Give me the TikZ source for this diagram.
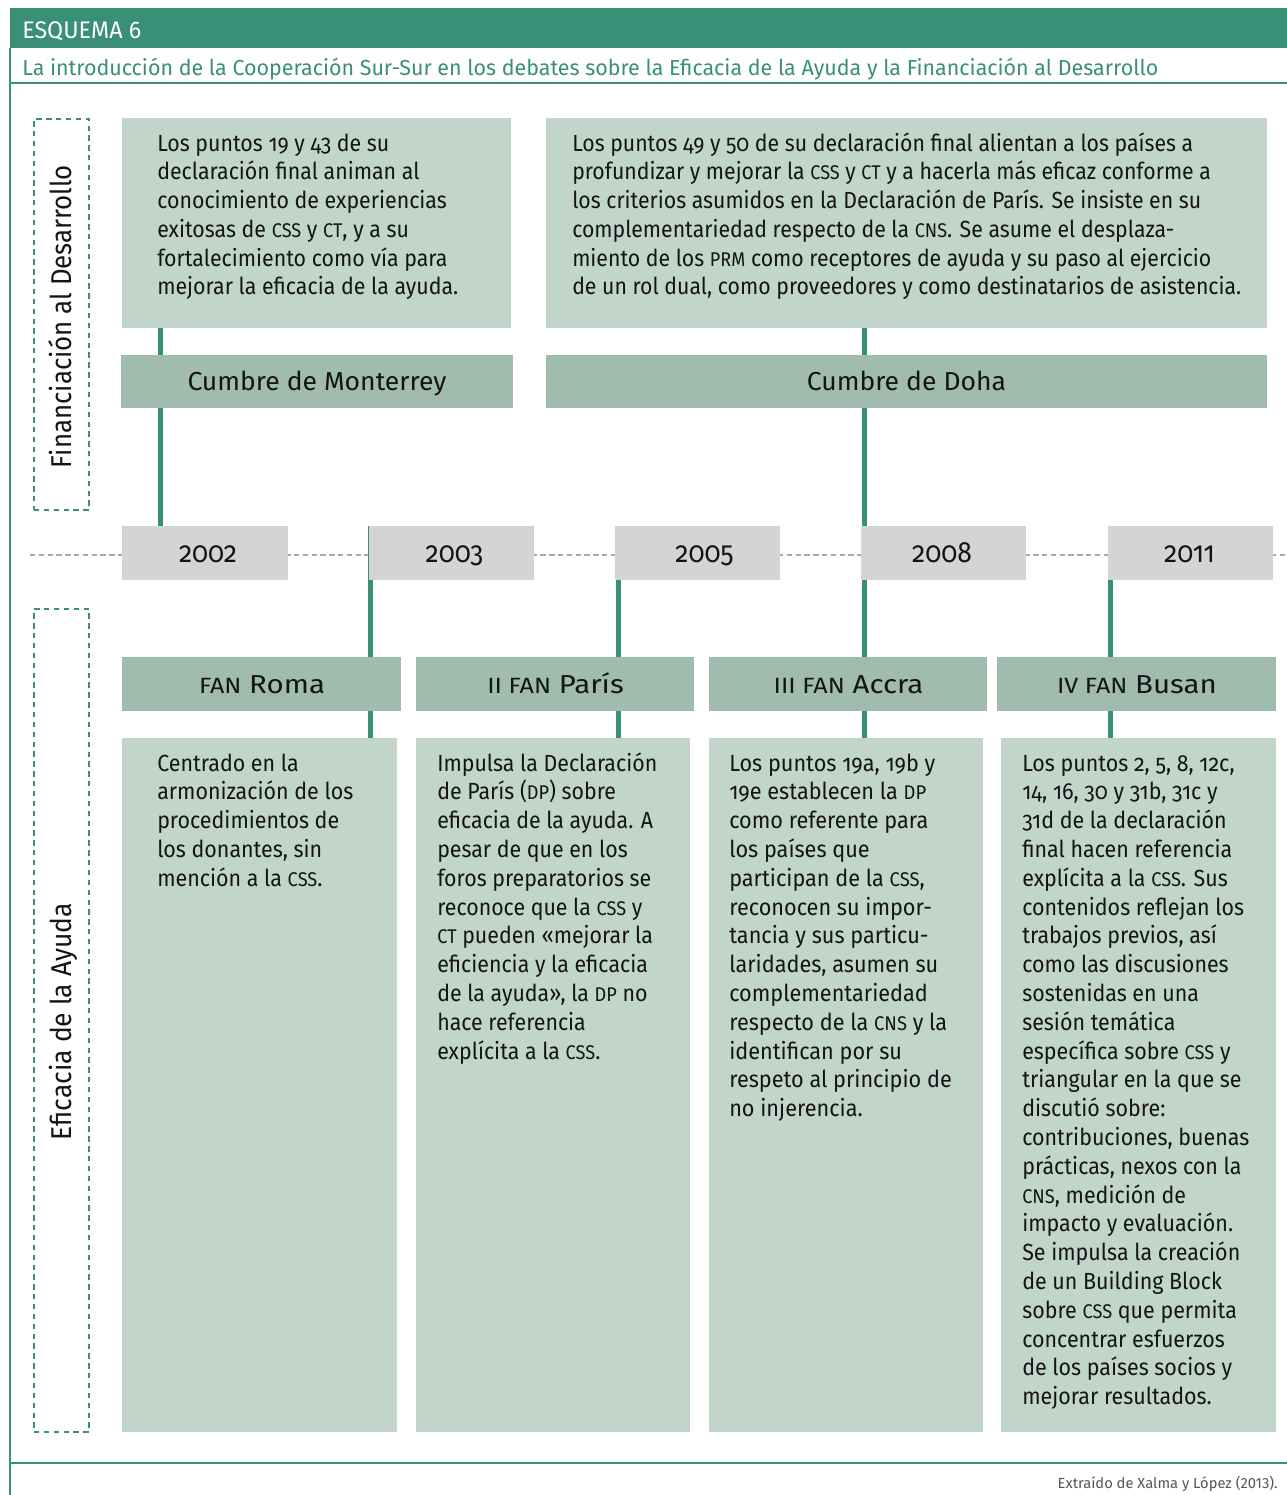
\documentclass[tikz,border=0pt]{standalone}
\usepackage{fontspec}
\setmainfont{Fira Sans}[Numbers=OldStyle]
\newfontfamily\linfont{Fira Sans}[Numbers=Lining]
\usepackage{graphicx}
\newlength\fitlen
\newcommand\fitto[3]{\settowidth\fitlen{#2}\pgfmathsetmacro\fitsf{#1*0.75/\fitlen}\scalebox{\fitsf}[1]{#3}}
\newcommand\smc[1]{\scalebox{0.85}{#1}}
\newcommand\bx[6]{\node[#6,anchor=north west,inner sep=0pt,outer sep=0pt,minimum width={(#3-#1)*0.75pt},minimum height={(#4-#2)*0.75pt}] (#5) at (#1,#2) {};}
\definecolor{hdr}{RGB}{58,143,119}
\definecolor{lightbx}{RGB}{194,213,202}
\definecolor{midbx}{RGB}{159,188,174}
\definecolor{yearbx}{RGB}{211,212,214}
\definecolor{tlgray}{RGB}{170,170,170}
\definecolor{txt}{RGB}{20,20,20}
\definecolor{foot}{RGB}{85,85,85}
\tikzset{
  lightfill/.style={fill=lightbx},
  plain/.style={},
  dashbox/.style={draw=hdr,line width=1.5pt,dash pattern=on 4pt off 3.4pt},
  conn/.style={draw=hdr,line width=3.75pt},
  timeline/.style={draw=tlgray,line width=1.6pt,dash pattern=on 4pt off 2.6pt},
  rule/.style={draw=hdr,line width=1.5pt},
  body/.style={anchor=base west,inner sep=0pt,text=txt,font={\fontsize{17.5}{21.6}\selectfont}},
  head/.style={anchor=base,inner sep=0pt,text=txt,font={\fontsize{19.5}{23}\selectfont}},
  yearlbl/.style={anchor=base,inner sep=0pt,text=txt,font={\fontsize{22}{26}\selectfont}},
  sidelbl/.style={anchor=base,inner sep=0pt,rotate=90,text=txt,font={\fontsize{21.5}{25}\selectfont}},
}
\begin{document}
\begin{tikzpicture}[x=0.75pt,y=-0.75pt]
\useasboundingbox (0,0) rectangle (1287,1495);
% frame
\fill[hdr] (10,8) rectangle (1287,48);
\node[anchor=base west,inner sep=0pt,text=white,font={\linfont\fontsize{18}{22}\selectfont}] (esq) at (22,38.5) {\fitto{119}{ESQUEMA 6}{ESQUEMA 6}};
\node[anchor=base west,inner sep=0pt,text=hdr,font={\linfont\fontsize{16.3}{20}\selectfont}] (sub) at (22,75) {\fitto{1136}{La introducción de la Cooperación Sur-Sur en los debates sobre la Eficacia de la Ayuda y la Financiación al Desarrollo}{La introducción de la Cooperación Sur-Sur en los debates sobre la Eficacia de la Ayuda y la Financiación al Desarrollo}};
\draw[rule,line width=1.2pt] (10,83) -- (1287,83);
\draw[rule] (10,48) -- (10,1495);
\draw[rule,line width=1.2pt] (10,1463) -- (1287,1463);
\node[anchor=base east,inner sep=0pt,text=foot,font={\linfont\fontsize{11}{13}\selectfont}] (src) at (1278,1488) {\fitto{220}{Extraído de Xalma y López (2013).}{Extraído de Xalma y López (2013).}};
% timeline
\coordinate (tl0) at (30,555);
\coordinate (tl1) at (1287,555);
\draw[timeline] (tl0) -- (tl1);
% boxes
\bx{122}{118}{511}{328}{tl}{lightfill}
\bx{546}{118}{1267}{328}{tr}{lightfill}
\bx{121}{355}{513}{408}{mon}{plain}
\bx{546}{355}{1267}{408}{doh}{plain}
\bx{122}{526}{288}{580}{y02}{plain}
\bx{369}{526}{534}{580}{y03}{plain}
\bx{615}{526}{780}{580}{y05}{plain}
\bx{861}{526}{1026}{580}{y08}{plain}
\bx{1108}{526}{1273}{580}{y11}{plain}
\bx{122}{657}{401}{711}{f1}{plain}
\bx{416}{657}{694}{711}{f2}{plain}
\bx{709}{657}{987}{711}{f3}{plain}
\bx{997}{657}{1276}{711}{f4}{plain}
\bx{122}{738}{397}{1432}{b1}{lightfill}
\bx{416}{738}{690}{1432}{b2}{lightfill}
\bx{709}{738}{983}{1432}{b3}{lightfill}
\bx{1001}{738}{1276}{1432}{b4}{lightfill}
\bx{34}{119}{89}{510}{sd1}{dashbox}
\bx{34}{609}{89}{1432}{sd2}{dashbox}
% connectors
\coordinate (cx1) at (160.5,0);
\coordinate (cx2) at (370.5,0);
\coordinate (cx3) at (618,0);
\coordinate (cx4) at (864,0);
\coordinate (cx5) at (1110.5,0);
\draw[conn] (tl.south -| cx1) -- (y02.north -| cx1);
\draw[conn] (y03.north -| cx2) -- (b1.north -| cx2);
\draw[conn] (y05.south -| cx3) -- (b2.north -| cx3);
\draw[conn] (tr.south -| cx4) -- (b3.north -| cx4);
\draw[conn] (y11.north -| cx5) -- (b4.north -| cx5);
% filled boxes on top of connectors
\fill[midbx] (mon.north west) rectangle (mon.south east);
\fill[midbx] (doh.north west) rectangle (doh.south east);
\fill[yearbx] (y02.north west) rectangle (y02.south east);
\fill[yearbx] (y03.north west) rectangle (y03.south east);
\fill[yearbx] (y05.north west) rectangle (y05.south east);
\fill[yearbx] (y08.north west) rectangle (y08.south east);
\fill[yearbx] (y11.north west) rectangle (y11.south east);
\fill[midbx] (f1.north west) rectangle (f1.south east);
\fill[midbx] (f2.north west) rectangle (f2.south east);
\fill[midbx] (f3.north west) rectangle (f3.south east);
\fill[midbx] (f4.north west) rectangle (f4.south east);
% side labels
\node[sidelbl] (lab1) at (71.5,316.5) {\fitto{303}{Financiación al Desarrollo}{Financiación al Desarrollo}};
\node[sidelbl] (lab2) at (71.5,1021.5) {\fitto{237}{Eficacia de la Ayuda}{Eficacia de la Ayuda}};
% headings
\node[head] (tmon) at (317,390.5) {\fitto{259}{Cumbre de Monterrey}{Cumbre de Monterrey}};
\node[head] (tdoh) at (906.5,390.5) {\fitto{259}{Cumbre de Monterrey}{Cumbre de Doha}};
\node[head] (tf1) at (262,693) {\fitto{126}{\smc{FAN} Roma}{\smc{FAN} Roma}};
\node[head] (tf2) at (555.5,693) {\fitto{126}{\smc{FAN} Roma}{\smc{II FAN} París}};
\node[head] (tf3) at (848.5,693) {\fitto{126}{\smc{FAN} Roma}{\smc{III FAN} Accra}};
\node[head] (tf4) at (1137,693) {\fitto{126}{\smc{FAN} Roma}{\smc{IV FAN} Busan}};
% years
\node[yearlbl] (t02) at (208,562) {\fitto{58}{2002}{2002}};
\node[yearlbl] (t03) at (454.5,562) {\fitto{58}{2002}{2003}};
\node[yearlbl] (t05) at (704.5,562) {\fitto{58}{2002}{2005}};
\node[yearlbl] (t08) at (942,562) {\fitto{58}{2002}{2008}};
\node[yearlbl] (t11) at (1189.5,562) {\fitto{58}{2002}{2011}};
% body texts
\node[body] (ttl) at (157,151) {\fitto{301}{mejorar la eficacia de la ayuda.}{\begin{tabular}[t]{@{}l@{}}
Los puntos 19 y 43 de su\\
declaración final animan al\\
conocimiento de experiencias\\
exitosas de \smc{CSS} y \smc{CT}, y a su\\
fortalecimiento como vía para\\
mejorar la eficacia de la ayuda.\end{tabular}}};
\node[body] (ttr) at (572,151) {\fitto{669}{de un rol dual, como proveedores y como destinatarios de asistencia.}{\begin{tabular}[t]{@{}l@{}}
Los puntos 49 y 50 de su declaración final alientan a los países a\\
profundizar y mejorar la \smc{CSS} y \smc{CT} y a hacerla más eficaz conforme a\\
los criterios asumidos en la Declaración de París. Se insiste en su\\
complementariedad respecto de la \smc{CNS}. Se asume el desplaza-\\
miento de los \smc{PRM} como receptores de ayuda y su paso al ejercicio\\
de un rol dual, como proveedores y como destinatarios de asistencia.\end{tabular}}};
\node[body] (tb1) at (157,771) {\fitto{196}{armonización de los}{\begin{tabular}[t]{@{}l@{}}
Centrado en la\\
armonización de los\\
procedimientos de\\
los donantes, sin\\
mención a la \smc{CSS}.\end{tabular}}};
\node[body] (tb2) at (437,771) {\fitto{220}{Impulsa la Declaración}{\begin{tabular}[t]{@{}l@{}}
Impulsa la Declaración\\
de París (\smc{DP}) sobre\\
eficacia de la ayuda. A\\
pesar de que en los\\
foros preparatorios se\\
reconoce que la \smc{CSS} y\\
\smc{CT} pueden «mejorar la\\
eficiencia y la eficacia\\
de la ayuda», la \smc{DP} no\\
hace referencia\\
explícita a la \smc{CSS}.\end{tabular}}};
\node[body] (tb3) at (729,771) {\fitto{218}{respecto de la \smc{CNS} y la}{\begin{tabular}[t]{@{}l@{}}
Los puntos 19a, 19b y\\
19e establecen la \smc{DP}\\
como referente para\\
los países que\\
participan de la \smc{CSS},\\
reconocen su impor-\\
tancia y sus particu-\\
laridades, asumen su\\
complementariedad\\
respecto de la \smc{CNS} y la\\
identifican por su\\
respeto al principio de\\
no injerencia.\end{tabular}}};
\node[body] (tb4) at (1022,771) {\fitto{227}{contribuciones, buenas}{\begin{tabular}[t]{@{}l@{}}
Los puntos 2, 5, 8, 12c,\\
14, 16, 30 y 31b, 31c y\\
31d de la declaración\\
final hacen referencia\\
explícita a la \smc{CSS}. Sus\\
contenidos reflejan los\\
trabajos previos, así\\
como las discusiones\\
sostenidas en una\\
sesión temática\\
específica sobre \smc{CSS} y\\
triangular en la que se\\
discutió sobre:\\
contribuciones, buenas\\
prácticas, nexos con la\\
\smc{CNS}, medición de\\
impacto y evaluación.\\
Se impulsa la creación\\
de un Building Block\\
sobre \smc{CSS} que permita\\
concentrar esfuerzos\\
de los países socios y\\
mejorar resultados.\end{tabular}}};
\end{tikzpicture}
\end{document}
